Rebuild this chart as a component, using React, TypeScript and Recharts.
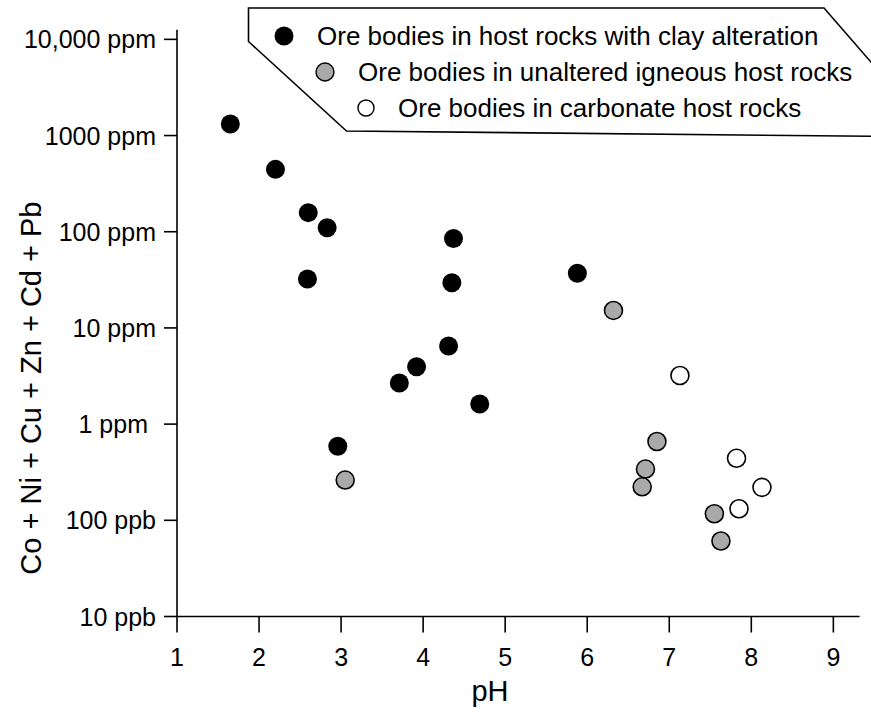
import React from 'react';
import { ScatterChart, Scatter, XAxis, YAxis, Legend } from 'recharts';

const seriesNames = [
  'Ore bodies in host rocks with clay alteration',
  'Ore bodies in unaltered igneous host rocks',
  'Ore bodies in carbonate host rocks',
];
const seriesFill = ['#000000', '#a9a9a9', '#ffffff'];

const clayPH = [1.65, 2.2, 2.6, 2.83, 2.59, 2.96, 3.71, 3.92, 4.31, 4.35, 4.37, 4.69, 5.88];
const clayValue = [1318, 445, 158, 110, 32.2, 0.59, 2.67, 3.95, 6.5, 29.5, 85, 1.62, 37];

const igneousPH = [3.05, 6.32, 6.67, 6.71, 6.85, 7.55, 7.63];
const igneousValue = [0.262, 15.2, 0.223, 0.341, 0.66, 0.117, 0.061];

const carbonatePH = [7.13, 7.82, 7.85, 8.13];
const carbonateValue = [3.2, 0.441, 0.132, 0.22];

const xTicks = [1, 2, 3, 4, 5, 6, 7, 8, 9];
const yTicks = [0.01, 0.1, 1, 10, 100, 1000, 10000];
const yTickLabels = ['10 ppb', '100 ppb', '1 ppm', '10 ppm', '100 ppm', '1000 ppm', '10,000 ppm'];

const xLabel = 'pH';
const yLabel = 'Co + Ni + Cu + Zn + Cd + Pb';

const toPoints = (xs: number[], ys: number[]) => xs.map((x, i) => ({ x, y: ys[i] }));
const clayData = toPoints(clayPH, clayValue);
const igneousData = toPoints(igneousPH, igneousValue);
const carbonateData = toPoints(carbonatePH, carbonateValue);

const FONT = '"Liberation Sans", Arial, Helvetica, sans-serif';

const makeShape = (fill: string, stroked: boolean) => (props: any) => {
  const { cx, cy } = props;
  if (cx == null || cy == null) return <g />;
  return stroked ? (
    <circle cx={cx} cy={cy} r={9} fill={fill} stroke="#000" strokeWidth={1.6} />
  ) : (
    <circle cx={cx} cy={cy} r={9.5} fill={fill} />
  );
};

const YTick = (props: any) => {
  const { x, y, payload } = props;
  const idx = yTicks.indexOf(payload.value);
  const label = idx >= 0 ? yTickLabels[idx] : String(payload.value);
  const shift = label === '1 ppm' ? -8 : 0;
  return (
    <text x={x + shift} y={y} textAnchor="end" dominantBaseline="central" fontFamily={FONT} fontSize={25} fill="#000">
      {label}
    </text>
  );
};

const XTick = (props: any) => {
  const { x, y, payload } = props;
  return (
    <text x={x} y={y} textAnchor="middle" dy="0.72em" fontFamily={FONT} fontSize={25} fill="#000">
      {payload.value}
    </text>
  );
};

const LegendBox = (props: any) => {
  const payload = (props.payload || []).slice();
  payload.sort((a: any, b: any) => seriesNames.indexOf(a.value) - seriesNames.indexOf(b.value));
  const rows = [
    { cx: 44, cy: 36, tx: 77, r: 9.5, stroked: false },
    { cx: 85, cy: 72, tx: 118, r: 9, stroked: true },
    { cx: 126, cy: 108, tx: 158, r: 8, stroked: true },
  ];
  return (
    <svg width={631} height={140} style={{ display: 'block', overflow: 'hidden' }}>
      <polygon
        points="8.5,8 584,8 650,84 650,136.5 106.5,131 8.5,41.5"
        fill="#fff"
        stroke="#000"
        strokeWidth={1.6}
      />
      {payload.map((entry: any) => {
        const i = seriesNames.indexOf(entry.value);
        const row = rows[i];
        if (!row) return null;
        const fill = seriesFill[i];
        return (
          <g key={i}>
            {row.stroked ? (
              <circle cx={row.cx} cy={row.cy} r={row.r} fill={fill} stroke="#000" strokeWidth={1.4} />
            ) : (
              <circle cx={row.cx} cy={row.cy} r={row.r} fill={fill} />
            )}
            <text x={row.tx} y={row.cy} dominantBaseline="central" fontFamily={FONT} fontSize={26} fill="#000">
              {entry.value}
            </text>
          </g>
        );
      })}
    </svg>
  );
};

export default function App() {
  return (
    <div style={{ position: 'absolute', left: 0, top: 0, width: 871, height: 723, background: '#fff' }}>
      <ScatterChart
        width={871}
        height={723}
        margin={{ top: 29.7, right: 11.4, bottom: 0, left: 0 }}
        style={{ fontFamily: FONT }}
      >
        <XAxis
          type="number"
          dataKey="x"
          domain={[1, 9.32]}
          ticks={xTicks}
          allowDataOverflow
          height={106.5}
          tickSize={16}
          tickMargin={15}
          tick={<XTick />}
          axisLine={{ stroke: '#000', strokeWidth: 1.6 }}
          tickLine={{ stroke: '#000', strokeWidth: 1.6 }}
          label={{
            content: (p: any) => {
              const vb = p.viewBox || { x: 177, y: 616.5 };
              return (
                <text x={vb.x + 313} y={vb.y + 84} textAnchor="middle" fontFamily={FONT} fontSize={29} fill="#000">
                  {xLabel}
                </text>
              );
            },
          }}
        />
        <YAxis
          type="number"
          dataKey="y"
          scale="log"
          domain={[0.01, 12600]}
          ticks={yTicks}
          allowDataOverflow
          width={177}
          tickSize={13}
          tickMargin={8}
          tick={<YTick />}
          axisLine={{ stroke: '#000', strokeWidth: 1.6 }}
          tickLine={{ stroke: '#000', strokeWidth: 1.6 }}
          label={{
            content: (p: any) => {
              const vb = p.viewBox || { x: 0, y: 29.7, height: 586.8 };
              const cx = vb.x + 41;
              const cy = vb.y + vb.height / 2 + 65;
              return (
                <text
                  x={cx}
                  y={cy}
                  textAnchor="middle"
                  transform={`rotate(-90, ${cx}, ${cy})`}
                  fontFamily={FONT}
                  fontSize={29}
                  fill="#000"
                >
                  {yLabel}
                </text>
              );
            },
          }}
        />
        <Legend
          layout="horizontal"
          verticalAlign="middle"
          align="center"
          itemSorter={null as any}
          content={<LegendBox />}
          wrapperStyle={{ position: 'absolute', left: 240, top: 0, width: 631, height: 140 }}
        />
        <Scatter name={seriesNames[0]} data={clayData} fill={seriesFill[0]} shape={makeShape(seriesFill[0], false)} isAnimationActive={false} />
        <Scatter name={seriesNames[1]} data={igneousData} fill={seriesFill[1]} shape={makeShape(seriesFill[1], true)} isAnimationActive={false} />
        <Scatter name={seriesNames[2]} data={carbonateData} fill={seriesFill[2]} shape={makeShape(seriesFill[2], true)} isAnimationActive={false} />
      </ScatterChart>
    </div>
  );
}
